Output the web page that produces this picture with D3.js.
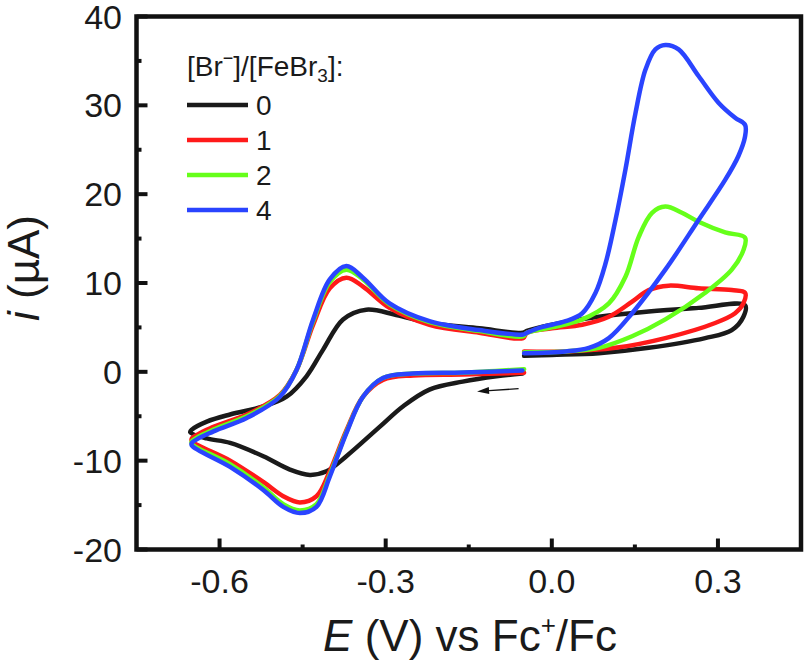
<!DOCTYPE html>
<html><head><meta charset="utf-8">
<script src="https://cdn.jsdelivr.net/npm/d3@7"></script>
<style>body{margin:0;background:#fff}svg{display:block}text{font-family:"Liberation Sans",Arial,Helvetica,sans-serif;fill:#1a1a1a}</style>
</head><body><svg id="c" width="805" height="661"></svg>
<script>
// ---- data: [E (V), i (µA)] ----
const ratioLabels = ["0", "1", "2", "4"];
const seriesColors = ["#1a1a1a", "#ff1a1a", "#66ff1a", "#2a44ff"];
const black = [[-0.053,-0.2],[-0.10,-0.5],[-0.161,-1.1],[-0.221,-2.0],[-0.269,-3.9],[-0.311,-6.2],[-0.371,-9.5],[-0.407,-11.2],[-0.437,-11.6],[-0.473,-11.0],[-0.521,-9.5],[-0.581,-8.0],[-0.623,-7.5],[-0.653,-6.8],
  [-0.650,-6.5],[-0.623,-5.6],[-0.581,-4.8],[-0.521,-3.9],[-0.479,-2.8],[-0.443,-0.5],[-0.413,2.5],[-0.377,5.9],[-0.335,7.0],[-0.281,6.4],[-0.221,5.5],[-0.131,4.9],[-0.052,4.4],
  [-0.045,4.6],[0.0,5.3],[0.085,6.2],[0.175,6.8],[0.265,7.2],[0.349,7.5],[0.346,6.2],[0.325,4.7],[0.277,3.8],[0.175,2.7],[0.085,2.1],[0.0,1.9],[-0.05,1.8]];
const red = [[-0.05,-0.1],[-0.16,-0.3],[-0.25,-0.4],[-0.305,-0.9],[-0.341,-2.8],[-0.371,-6.6],[-0.401,-11.2],[-0.425,-14.0],[-0.455,-14.7],[-0.485,-14.0],[-0.521,-12.4],[-0.581,-10.0],[-0.650,-7.8],
  [-0.650,-7.5],[-0.611,-6.2],[-0.551,-4.8],[-0.491,-2.6],[-0.461,0.2],[-0.431,5.3],[-0.401,9.4],[-0.371,10.6],[-0.341,9.6],[-0.293,7.2],[-0.221,5.3],[-0.131,4.4],[-0.052,3.8],
  [-0.045,4.4],[0.0,4.9],[0.055,5.3],[0.103,6.2],[0.145,7.9],[0.175,9.2],[0.211,9.7],[0.265,9.4],[0.325,9.2],[0.349,8.9],[0.346,7.7],[0.331,6.6],[0.295,5.5],[0.205,3.8],[0.115,2.7],[0.025,2.3],[-0.05,2.3]];
const green = [[-0.05,0.3],[-0.16,-0.1],[-0.25,-0.2],[-0.305,-0.7],[-0.341,-2.8],[-0.371,-6.8],[-0.401,-11.6],[-0.425,-14.9],[-0.455,-15.6],[-0.485,-14.9],[-0.521,-13.0],[-0.581,-10.4],[-0.650,-8.1],
  [-0.650,-7.8],[-0.611,-6.5],[-0.551,-5.0],[-0.491,-2.7],[-0.461,0.2],[-0.431,5.7],[-0.401,10.1],[-0.371,11.5],[-0.341,10.4],[-0.293,7.6],[-0.221,5.6],[-0.131,4.6],[-0.052,4.0],
  [-0.045,4.4],[0.0,5.0],[0.055,5.9],[0.103,7.7],[0.133,10.7],[0.157,15.2],[0.181,17.9],[0.205,18.6],[0.235,17.9],[0.265,16.9],[0.313,15.7],[0.349,15.1],[0.346,13.7],[0.325,11.5],[0.277,8.9],[0.205,5.9],[0.145,4.0],[0.085,2.7],[0.025,2.3],[-0.05,2.2]];
const blue = [[-0.053,0.15],[-0.161,-0.08],[-0.251,-0.2],[-0.305,-0.7],[-0.341,-2.8],[-0.371,-6.9],[-0.401,-11.8],[-0.425,-15.2],[-0.455,-15.9],[-0.485,-15.2],[-0.521,-13.3],[-0.581,-10.7],[-0.650,-8.3],
  [-0.650,-8.0],[-0.611,-6.7],[-0.551,-5.2],[-0.491,-2.8],[-0.461,0.2],[-0.431,5.9],[-0.401,10.4],[-0.371,11.9],[-0.341,10.6],[-0.293,7.7],[-0.221,5.7],[-0.131,4.7],[-0.052,4.2],
  [-0.045,4.4],[-0.02,5.0],[0.025,5.7],[0.055,6.6],[0.079,8.9],[0.097,12.2],[0.115,17.1],[0.133,22.8],[0.151,29.1],[0.169,34.0],[0.187,36.3],[0.205,36.8],[0.229,36.3],[0.265,33.3],[0.301,30.3],[0.331,28.6],[0.349,27.8],[0.349,26.5],[0.337,24.3],[0.313,21.6],[0.265,17.1],[0.205,11.5],[0.145,6.6],[0.103,3.8],[0.067,2.7],[0.025,2.3],[-0.05,2.1]];
const xMajorTicks = [-0.6, -0.3, 0.0, 0.3];
const xMinorTicks = [-0.45, -0.15, 0.15];
const yMajorTicks = [-20, -10, 0, 10, 20, 30, 40];
const yMinorTicks = [-15, -5, 5, 15, 25, 35];
const arrowFrom = [-0.06, -1.9];
const arrowTo = [-0.135, -2.2];

const svg = d3.select("#c");
const x = d3.scaleLinear().domain([-0.75, 0.45]).range([136.5, 801]);
const y = d3.scaleLinear().domain([-20, 40]).range([549.5, 16.5]);

// curves
const line = d3.line().x(d => x(d[0])).y(d => y(d[1])).curve(d3.curveCatmullRom.alpha(0.5));
[black, red, green, blue].forEach((s, k) => {
  svg.append("path").attr("d", line(s)).attr("fill", "none")
    .attr("stroke", seriesColors[k]).attr("stroke-width", 4.5)
    .attr("stroke-linejoin", "round").attr("stroke-linecap", "round");
});

// frame
svg.append("rect").attr("x", x.range()[0]).attr("y", y.range()[1])
  .attr("width", x.range()[1] - x.range()[0]).attr("height", y.range()[0] - y.range()[1])
  .attr("fill", "none").attr("stroke", "#111").attr("stroke-width", 4.5);

// x ticks (inward)
const gx = svg.append("g");
xMajorTicks.forEach(v => {
  gx.append("line").attr("x1", x(v)).attr("x2", x(v)).attr("y1", y(-20)).attr("y2", y(-20) - 11)
    .attr("stroke", "#111").attr("stroke-width", 4);
  gx.append("text").attr("x", x(v)).attr("y", 593).attr("text-anchor", "middle")
    .attr("font-size", 34).text(d3.format(".1f")(v).replace("−", "-"));
});
xMinorTicks.forEach(v => {
  gx.append("line").attr("x1", x(v)).attr("x2", x(v)).attr("y1", y(-20)).attr("y2", y(-20) - 5)
    .attr("stroke", "#111").attr("stroke-width", 4);
});
// y ticks
const gy = svg.append("g");
yMajorTicks.forEach(v => {
  gy.append("line").attr("x1", x(-0.75)).attr("x2", x(-0.75) + 11).attr("y1", y(v)).attr("y2", y(v))
    .attr("stroke", "#111").attr("stroke-width", 4);
  gy.append("text").attr("x", 122).attr("y", y(v) + 12).attr("text-anchor", "end")
    .attr("font-size", 34).text(String(v));
});
yMinorTicks.forEach(v => {
  gy.append("line").attr("x1", x(-0.75)).attr("x2", x(-0.75) + 5).attr("y1", y(v)).attr("y2", y(v))
    .attr("stroke", "#111").attr("stroke-width", 4);
});

// axis titles
const xt = svg.append("text").attr("x", 470).attr("y", 651).attr("text-anchor", "middle").attr("font-size", 44);
xt.append("tspan").attr("font-style", "italic").text("E");
xt.append("tspan").text(" (V) vs Fc");
xt.append("tspan").attr("font-size", 26).attr("dy", -17).text("+");
xt.append("tspan").attr("dy", 17).text("/Fc");

const yt = svg.append("text").attr("transform", "translate(39,268) rotate(-90)").attr("text-anchor", "middle").attr("font-size", 44);
yt.append("tspan").attr("font-style", "italic").text("i");
yt.append("tspan").text(" (\u00b5A)");

// legend
const lt = svg.append("text").attr("x", 187).attr("y", 76).attr("font-size", 28);
lt.append("tspan").text("[Br");
lt.append("tspan").attr("font-size", 18).attr("dy", -12).text("\u2212");
lt.append("tspan").attr("dy", 12).text("]/[FeBr");
lt.append("tspan").attr("font-size", 19).attr("dy", 6).text("3");
lt.append("tspan").attr("dy", -6).text("]:");
ratioLabels.forEach((lab, k) => {
  const ly = 105 + k * 35;
  svg.append("line").attr("x1", 187).attr("x2", 248).attr("y1", ly).attr("y2", ly)
    .attr("stroke", seriesColors[k]).attr("stroke-width", 4.5);
  svg.append("text").attr("x", 256).attr("y", ly + 10).attr("font-size", 28).text(lab);
});

// scan direction arrow
const ax1 = x(arrowFrom[0]), ay1 = y(arrowFrom[1]), ax2 = x(arrowTo[0]), ay2 = y(arrowTo[1]);
const ang = Math.atan2(ay2 - ay1, ax2 - ax1);
const hl = 12, hw = 3.5;
const bx = ax2 - hl * Math.cos(ang), by = ay2 - hl * Math.sin(ang);
svg.append("line").attr("x1", ax1).attr("y1", ay1).attr("x2", bx).attr("y2", by).attr("stroke", "#111").attr("stroke-width", 1.3);
svg.append("path").attr("d", `M${ax2},${ay2}L${bx - hw * Math.sin(ang)},${by + hw * Math.cos(ang)}L${bx + hw * Math.sin(ang)},${by - hw * Math.cos(ang)}Z`).attr("fill", "#111");
</script></body></html>
